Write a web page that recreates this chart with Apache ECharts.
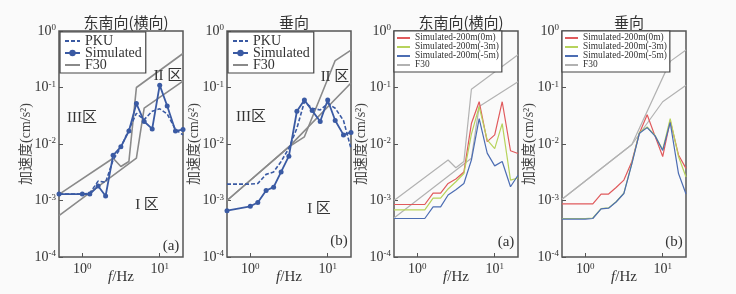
<!DOCTYPE html>
<html><head><meta charset="utf-8">
<script src="https://cdn.jsdelivr.net/npm/echarts@6/dist/echarts.min.js"></script>
<style>html,body{margin:0;padding:0;background:#fafafa}#c{width:736px;height:294px}</style>
</head><body><div id="c"></div>
<script>
// ---- data ----
const freqs = [0.5, 1, 1.25, 1.6, 2, 2.5, 3.15, 4, 5, 6.3, 8, 10, 12.5, 16, 20];
// panel (a) left: horizontal
const simH = [1.3e-3, 1.3e-3, 1.3e-3, 1.8e-3, 1.2e-3, 6.3e-3, 8.9e-3, 0.017, 0.052, 0.025, 0.0185, 0.11, 0.047, 0.017, 0.018];
const pkuH = [1.3e-3, 1.3e-3, 1.35e-3, 2.2e-3, 2.1e-3, 5.2e-3, 8.7e-3, 0.018, 0.035, 0.027, 0.038, 0.042, 0.034, 0.018, 0.0145];
// panel (b) left: vertical
const simV = [6.6e-4, 7.9e-4, 9.2e-4, 1.5e-3, 1.72e-3, 3.2e-3, 6.1e-3, 0.038, 0.06, 0.039, 0.025, 0.06, 0.026, 0.0145, 0.016];
const pkuV = [1.95e-3, 1.95e-3, 2.0e-3, 2.9e-3, 3.2e-3, 4.9e-3, 8.4e-3, 0.019, 0.056, 0.043, 0.04, 0.052, 0.043, 0.026, 8.3e-3];
// F30 criterion lines
const f30H1UpF = [0.5, 2.5, 3.15, 4, 5, 20];
const f30H1Up  = [1.28e-3, 5.6e-3, 4.0e-3, 4.9e-3, 0.1, 0.4];
const f30H1LoF = [0.5, 5, 6.3, 20];
const f30H1Lo  = [5.4e-4, 5.6e-3, 0.043, 0.13];
const f30V1AF = [0.5, 3.15, 5, 12.5, 20];
const f30V1A  = [1.0e-3, 8.9e-3, 0.0134, 0.3, 0.46];
const f30V1BF = [0.5, 3.15, 20];
const f30V1B  = [1.0e-3, 8.9e-3, 0.12];
const f30H2UpF = [0.5, 2.5, 3.15, 4, 5, 20];
const f30H2Up  = [1.0e-3, 5.2e-3, 3.8e-3, 4.9e-3, 0.093, 0.38];
const f30H2LoF = [0.5, 5, 6.3, 20];
const f30H2Lo  = [4.9e-4, 5.6e-3, 0.046, 0.126];
const f30V2AF = [0.5, 4, 12.5, 20];
const f30V2A  = [1.05e-3, 9.8e-3, 0.29, 0.46];
const f30V2BF = [0.5, 4, 10, 20];
const f30V2B  = [1.05e-3, 9.8e-3, 0.056, 0.11];
// panel (a) right: horizontal, 200m
const h0m = [8.5e-4, 8.5e-4, 8.5e-4, 1.35e-3, 1.35e-3, 2.0e-3, 2.4e-3, 3.2e-3, 0.023, 0.056, 0.011, 0.0145, 0.056, 7.6e-3, 6.8e-3];
const h3m = [6.8e-4, 6.8e-4, 6.8e-4, 1.1e-3, 1.1e-3, 1.6e-3, 2.15e-3, 3.0e-3, 0.015, 0.046, 0.0118, 8.3e-3, 0.023, 2.3e-3, 2.5e-3];
const h5m = [4.8e-4, 4.8e-4, 4.8e-4, 7.7e-4, 7.7e-4, 1.25e-3, 1.55e-3, 2.0e-3, 5.2e-3, 0.028, 6.9e-3, 4.1e-3, 4.9e-3, 1.75e-3, 2.8e-3];
// panel (b) right: vertical, 200m
const v0m = [8.7e-4, 8.7e-4, 8.7e-4, 1.3e-3, 1.3e-3, 1.7e-3, 2.3e-3, 4.9e-3, 0.0155, 0.033, 0.0135, 6e-3, 0.026, 6.4e-3, 3.7e-3];
const v3m = [4.8e-4, 4.8e-4, 4.9e-4, 7.2e-4, 7.4e-4, 9.5e-4, 1.35e-3, 4.6e-3, 0.016, 0.02, 0.014, 7.9e-3, 0.028, 6e-3, 2.6e-3];
const v5m = [4.7e-4, 4.7e-4, 4.8e-4, 7.1e-4, 7.3e-4, 9.4e-4, 1.33e-3, 4.5e-3, 0.0155, 0.0195, 0.0138, 7.7e-3, 0.024, 3e-3, 1.3e-3];

const titles = ['东南向(横向)', '垂向', '东南向(横向)', '垂向'];
const legendA = ['PKU', 'Simulated', 'F30'];
const legendB = ['Simulated-200m(0m)', 'Simulated-200m(-3m)', 'Simulated-200m(-5m)', 'F30'];

// ---- styling ----
const SERIF = 'Liberation Serif, Times New Roman, serif';
const CJK = 'Noto Sans CJK SC';
const TXT = '#333';
const BLUE = '#3a5aa3';
const GRAY = '#8a8a8a';
const LGRAY = '#b2b2b2';
const RED = '#e05a5c';
const YEL = '#b7d35c';
const LBLUE = '#4c6db3';
const lefts = [59, 227, 394, 562];
const W = 124, TOP = 31, H = 226;

function pairs(f, v) { return f.map((x, i) => [x, v[i]]); }
function powLabel(v) {
  const l = Math.log10(v); const e = Math.round(l);
  if (Math.abs(l - e) > 1e-6) return '';
  return '{b|10}{s|' + (e < 0 ? '-' + (-e) : e) + '}';
}
const rich = {
  b: { fontSize: 14, fontFamily: SERIF, color: TXT },
  s: { fontSize: 9, fontFamily: SERIF, color: TXT, verticalAlign: 'top', padding: [0, 0, 6, 0] }
};

const grid = [], xAxis = [], yAxis = [], title = [], legend = [], series = [], graphic = [];
for (let i = 0; i < 4; i++) {
  grid.push({ left: lefts[i], top: TOP, width: W, height: H, show: true, borderColor: '#555', borderWidth: 1.5, backgroundColor: 'transparent' });
  xAxis.push({ type: 'log', logBase: 10, min: 0.5, max: 20, gridIndex: i,
    axisLine: { show: false }, splitLine: { show: false },
    axisTick: { inside: true, length: 4, lineStyle: { color: '#555' } },
    axisLabel: { formatter: powLabel, rich: rich, margin: 5, showMinLabel: false, showMaxLabel: false },
    name: '{i|f}{n|/Hz}', nameLocation: 'middle', nameGap: 13, nameMoveOverlap: false,
    nameTextStyle: { rich: { i: { fontSize: 15, fontFamily: SERIF, fontStyle: 'italic', color: TXT }, n: { fontSize: 15, fontFamily: SERIF, color: TXT } } }
  });
  yAxis.push({ type: 'log', logBase: 10, min: 1e-4, max: 1, gridIndex: i,
    axisLine: { show: false }, splitLine: { show: false },
    axisTick: { inside: true, length: 4, lineStyle: { color: '#555' } },
    axisLabel: { formatter: powLabel, rich: rich, margin: 3 },
    name: '加速度(cm/s²)', nameLocation: 'middle', nameGap: 26, nameRotate: 90, nameMoveOverlap: false,
    nameTextStyle: { fontSize: 14, fontFamily: SERIF + ', ' + CJK, color: '#444' }
  });
  title.push({ text: titles[i], left: lefts[i] + W / 2, top: 10, textAlign: 'center',
    textStyle: { fontSize: 15, fontWeight: 'normal', fontFamily: CJK, color: TXT } });
}
const noSym = { opacity: 0, borderWidth: 0 };
// legends
[0, 1].forEach(i => legend.push({
  data: legendA.map(n => n === 'Simulated' ? n : { name: n, itemStyle: noSym }),
  left: lefts[i] + 1, top: TOP + 1, orient: 'vertical',
  itemWidth: 15, itemHeight: 8, itemGap: -2, padding: [2, 4, 1, 4],
  borderColor: '#444', borderWidth: 1.2, backgroundColor: '#fff', selectedMode: false,
  textStyle: { fontSize: 14, fontFamily: SERIF, color: TXT, lineHeight: 13 }
}));
[2, 3].forEach(i => legend.push({
  data: legendB.map(n => n === 'F30'
    ? { name: n, lineStyle: { color: LGRAY }, itemStyle: noSym }
    : { name: n, itemStyle: noSym }),
  left: lefts[i], top: TOP, orient: 'vertical',
  itemWidth: 13, itemHeight: 6, itemGap: -1, padding: [2, 3, 2, 2],
  borderColor: '#444', borderWidth: 1.2, backgroundColor: '#fff', selectedMode: false,
  textStyle: { fontSize: 9.4, fontFamily: SERIF, color: TXT, lineHeight: 10 }
}));

function line(name, data, idx, color, opts) {
  return Object.assign({ type: 'line', name: name, data: data, xAxisIndex: idx, yAxisIndex: idx,
    symbol: 'none', animation: false, lineStyle: { color: color, width: 1.2 }, itemStyle: { color: color } }, opts || {});
}
// panel 1
series.push(line('F30', pairs(f30H1UpF, f30H1Up), 0, GRAY, { lineStyle: { color: GRAY, width: 1.6 } }));
series.push(line('F30', pairs(f30H1LoF, f30H1Lo), 0, GRAY, { lineStyle: { color: GRAY, width: 1.6 } }));
series.push(line('PKU', pairs(freqs, pkuH), 0, BLUE, { lineStyle: { color: BLUE, width: 1.6, type: [4, 2] } }));
series.push(line('Simulated', pairs(freqs, simH), 0, BLUE, { symbol: 'circle', symbolSize: 5, lineStyle: { color: BLUE, width: 1.8 } }));
// panel 2
series.push(line('F30', pairs(f30V1AF, f30V1A), 1, GRAY, { lineStyle: { color: GRAY, width: 1.6 } }));
series.push(line('F30', pairs(f30V1BF, f30V1B), 1, GRAY, { lineStyle: { color: GRAY, width: 1.6 } }));
series.push(line('PKU', pairs(freqs, pkuV), 1, BLUE, { lineStyle: { color: BLUE, width: 1.6, type: [4, 2] } }));
series.push(line('Simulated', pairs(freqs, simV), 1, BLUE, { symbol: 'circle', symbolSize: 5, lineStyle: { color: BLUE, width: 1.8 } }));
// panel 3
series.push(line('F30', pairs(f30H2UpF, f30H2Up), 2, LGRAY));
series.push(line('F30', pairs(f30H2LoF, f30H2Lo), 2, LGRAY));
series.push(line('Simulated-200m(0m)', pairs(freqs, h0m), 2, RED));
series.push(line('Simulated-200m(-3m)', pairs(freqs, h3m), 2, YEL));
series.push(line('Simulated-200m(-5m)', pairs(freqs, h5m), 2, LBLUE));
// panel 4
series.push(line('F30', pairs(f30V2AF, f30V2A), 3, LGRAY));
series.push(line('F30', pairs(f30V2BF, f30V2B), 3, LGRAY));
series.push(line('Simulated-200m(0m)', pairs(freqs, v0m), 3, RED));
series.push(line('Simulated-200m(-3m)', pairs(freqs, v3m), 3, YEL));
series.push(line('Simulated-200m(-5m)', pairs(freqs, v5m), 3, LBLUE));

// annotations
function txt(x, y, s, size) {
  return { type: 'text', x: x, y: y, style: { text: s, fontSize: size || 15, fontFamily: SERIF + ', ' + CJK, fill: TXT, align: 'center', verticalAlign: 'middle' }, z: 100 };
}
graphic.push(txt(82, 118, 'III区'), txt(168, 76, 'II 区'), txt(147, 205, 'I 区'), txt(171, 246, '(a)'));
graphic.push(txt(251, 117, 'III区'), txt(335, 77, 'II 区'), txt(319, 209, 'I 区'), txt(339, 241, '(b)'));
graphic.push(txt(506, 242, '(a)'), txt(674, 242, '(b)'));

const chart = echarts.init(document.getElementById('c'), null, { renderer: 'canvas' });
chart.setOption({ backgroundColor: '#fafafa', animation: false, grid, xAxis, yAxis, title, legend, series, graphic });
</script></body></html>
